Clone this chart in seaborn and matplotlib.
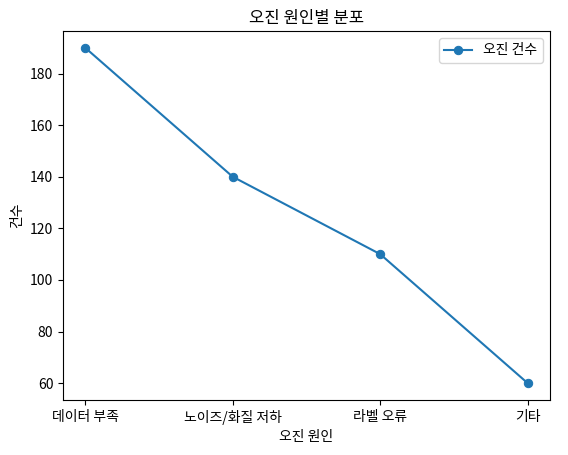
import matplotlib
matplotlib.use("Agg")
import matplotlib.pyplot as plt
import seaborn as sns
import pandas as pd

plt.rcParams['font.family'] = ['Noto Sans CJK KR', 'DejaVu Sans']
plt.rcParams['axes.unicode_minus'] = False

causes = ["데이터 부족", "노이즈/화질 저하", "라벨 오류", "기타"]
counts = [190, 140, 110, 60]

df = pd.DataFrame({"원인": causes, "건수": counts})

fig, ax = plt.subplots(figsize=(5.68, 4.55), dpi=100)
sns.lineplot(data=df, x="원인", y="건수", marker="o", markeredgecolor="#1f77b4",
             markersize=6, color="#1f77b4", label="오진 건수", ax=ax, sort=False)

ax.set_title("오진 원인별 분포")
ax.set_xlabel("오진 원인")
ax.set_ylabel("건수")
ax.legend(loc="upper right")
fig.subplots_adjust(left=0.111, right=0.968, top=0.932, bottom=0.121)
plt.savefig("out.png", dpi=100)
